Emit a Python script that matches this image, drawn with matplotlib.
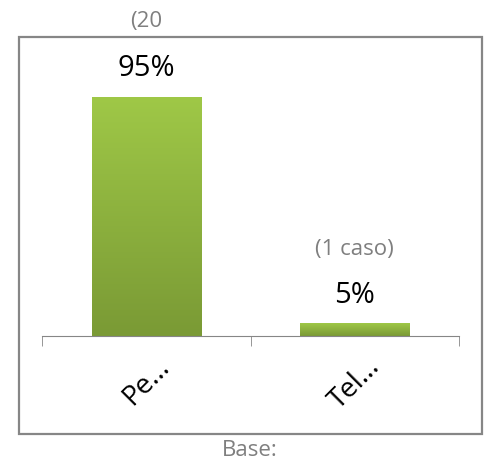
import numpy as np
import matplotlib.pyplot as plt
from matplotlib.patches import Rectangle
from matplotlib.colors import LinearSegmentedColormap

categories = ['Pe...', 'Tel...']
values = [95, 5]
value_labels = ['95%', '5%']
count_labels = ['(20', '(1 caso)']
base_text = 'Base:'

plt.rcParams['font.family'] = ['Open Sans', 'DejaVu Sans']

fig = plt.figure(figsize=(4.87, 4.66), dpi=100)
ax = fig.add_axes([42 / 487, 130 / 466, 417 / 487, 252 / 466])

# outer chart frame
fig.patches.append(Rectangle((19 / 487, 32 / 466), 463 / 487, 397 / 466,
                             transform=fig.transFigure, fill=False,
                             edgecolor='#868686', linewidth=1.6, zorder=0))

x = np.arange(len(categories))
width = 0.523
bars = ax.bar(x, values, width=width, color='none', edgecolor='none')

# vertical gradient fill, light on top, darker at the base
cmap = LinearSegmentedColormap.from_list('grn', ['#7a9a35', '#9fc847'])
grad = np.linspace(0, 1, 256).reshape(-1, 1)
for b in bars:
    x0, y0 = b.get_x(), b.get_y()
    w, h = b.get_width(), b.get_height()
    im = ax.imshow(grad, extent=(x0, x0 + w, y0, y0 + h), origin='lower',
                   cmap=cmap, aspect='auto', zorder=2)
    im.set_clip_path(b)

ax.set_xlim(-0.5, 1.5)
ax.set_ylim(0, 100)

for i, v in enumerate(values):
    ax.text(x[i], v + 11.2, value_labels[i], ha='center', va='center',
            fontsize=21, color='#000000')

# count labels in gray
fig.text(146 / 487, 1 - 21 / 466, count_labels[0], ha='center', va='center',
         fontsize=16, color='#7f7f7f')
ax.text(x[1], values[1] + 29.5, count_labels[1], ha='center', va='center',
        fontsize=16, color='#7f7f7f')

fig.text(250 / 487, 1 - 451 / 466, base_text, ha='center', va='center',
         fontsize=16, color='#7f7f7f')

for s in ['top', 'right', 'left']:
    ax.spines[s].set_visible(False)
ax.spines['bottom'].set_color('#868686')
ax.set_yticks([])
ax.set_xticks(x)
ax.set_xticklabels(categories, rotation=45, ha='center', fontsize=20, color='#000000')
ax.tick_params(axis='x', which='major', length=0, pad=12)
ax.set_xticks([-0.5, 0.5, 1.5], minor=True)
ax.tick_params(axis='x', which='minor', length=7, color='#868686', direction='out')
ax.set_xlim(-0.5, 1.5)
ax.patch.set_alpha(0)

fig.savefig('out.png', dpi=100)
